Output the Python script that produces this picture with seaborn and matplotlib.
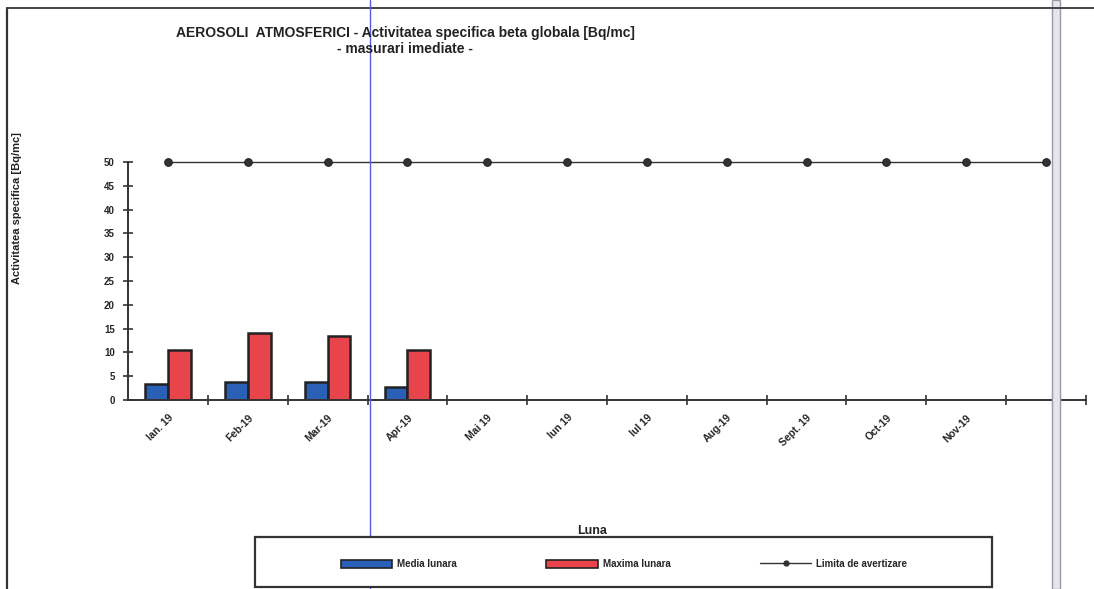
import matplotlib
matplotlib.use("Agg")
import seaborn as sns
import matplotlib.pyplot as plt
from matplotlib.lines import Line2D
from matplotlib.patches import Patch, Rectangle
import numpy as np
import pandas as pd

# Data
months = ["Ian. 19", "Feb-19", "Mar-19", "Apr-19", "Mai 19", "Iun 19",
          "Iul 19", "Aug-19", "Sept. 19", "Oct-19", "Nov-19", ""]
media_lunara = [3.4, 3.8, 3.7, 2.8, np.nan, np.nan, np.nan, np.nan, np.nan, np.nan, np.nan, np.nan]
maxima_lunara = [10.6, 14.0, 13.5, 10.5, np.nan, np.nan, np.nan, np.nan, np.nan, np.nan, np.nan, np.nan]
limita_avertizare = [50] * 12

series_names = ["Media lunara", "Maxima lunara"]
colors = ["#2a60b8", "#e8444c"]

df = pd.DataFrame({
    "Luna": months * 2,
    "Serie": [series_names[0]] * 12 + [series_names[1]] * 12,
    "Valoare": media_lunara + maxima_lunara,
})

sns.set_style("white")
plt.rcParams["font.family"] = ["Liberation Sans", "DejaVu Sans"]
plt.rcParams["font.weight"] = "bold"

fig = plt.figure(figsize=(10.94, 5.89), dpi=100)
ax = fig.add_axes([128 / 1094, 1 - 400 / 589, (1086 - 128) / 1094, (400 - 162) / 589])

sns.barplot(data=df, x="Luna", y="Valoare", hue="Serie", order=months,
            hue_order=series_names, palette=colors, width=0.57, saturation=1,
            edgecolor="#222222", linewidth=1.8, ax=ax, legend=False)

sns.lineplot(x=np.arange(len(months)), y=limita_avertizare, color="#333333",
             linewidth=1.0, marker="o", markersize=5.5, markeredgecolor="#222222",
             ax=ax, legend=False, clip_on=False, zorder=5)

ax.set_xlim(-0.5, len(months) - 0.5)
ax.set_ylim(0, 50)
ax.set_yticks(range(0, 51, 5))
ax.set_yticklabels([str(v) for v in range(0, 51, 5)], fontsize=7, fontweight="bold")

# category boundary ticks, labels at centres
ax.set_xticks(np.arange(0.5, len(months), 1.0))
ax.set_xticklabels([])
ax.set_xticks(np.arange(len(months)), minor=True)
ax.set_xticklabels(months, minor=True, rotation=45, ha="right",
                   rotation_mode="anchor", fontsize=7.5, fontweight="bold")
ax.tick_params(axis="x", which="major", bottom=True, direction="inout", length=7,
               width=1.2, color="#333333")
ax.tick_params(axis="x", which="minor", bottom=True, length=0, pad=9)
ax.tick_params(axis="y", left=True, direction="inout", length=7, width=1.2,
               color="#333333", pad=6)

for s in ["top", "right"]:
    ax.spines[s].set_visible(False)
for s in ["left", "bottom"]:
    ax.spines[s].set_linewidth(1.4)
    ax.spines[s].set_color("#333333")
ax.set_xlabel("")
ax.set_ylabel("")

fig.text(405 / 1094, 1 - 33 / 589, "AEROSOLI  ATMOSFERICI - Activitatea specifica beta globala [Bq/mc]",
         ha="center", va="center", fontsize=10, fontweight="bold", color="#222222")
fig.text(405 / 1094, 1 - 49 / 589, "- masurari imediate -",
         ha="center", va="center", fontsize=10, fontweight="bold", color="#222222")
fig.text(17 / 1094, 1 - 208 / 589, "Activitatea specifica [Bq/mc]", rotation=90,
         ha="center", va="center", fontsize=8, fontweight="bold", color="#222222")
fig.text(592 / 1094, 1 - 531 / 589, "Luna", ha="center", va="center",
         fontsize=9, fontweight="bold", color="#222222")

# legend box
fig.patches.append(Rectangle((255 / 1094, 1 - 587 / 589), (992 - 255) / 1094, 50 / 589,
                             transform=fig.transFigure, facecolor="white",
                             edgecolor="#333333", linewidth=1.6, zorder=2))
handles = [
    Patch(facecolor=colors[0], edgecolor="#222222", linewidth=1.2, label="Media lunara"),
    Patch(facecolor=colors[1], edgecolor="#222222", linewidth=1.2, label="Maxima lunara"),
    Line2D([0], [0], color="#333333", linewidth=1.0, marker="o", markersize=3.5,
           label="Limita de avertizare"),
]
leg = fig.legend(handles=handles, loc="center", bbox_to_anchor=(624 / 1094, 1 - 564 / 589),
                 ncol=3, frameon=False, fontsize=7, handlelength=5.3, handleheight=0.9,
                 handletextpad=0.5, columnspacing=9.2)
leg.set_zorder(3)

# page frame and scan artefacts
fig.add_artist(Line2D([7 / 1094, 7 / 1094], [0, 1 - 8 / 589], transform=fig.transFigure,
                      color="#333333", linewidth=1.6))
fig.add_artist(Line2D([7 / 1094, 1], [1 - 8 / 589, 1 - 8 / 589], transform=fig.transFigure,
                      color="#444444", linewidth=1.4))
fig.patches.append(Rectangle((1052 / 1094, 0), 8 / 1094, 1, transform=fig.transFigure,
                             facecolor="#e4e6ee", edgecolor="#9a9aa4", linewidth=1.0, zorder=1))
fig.add_artist(Line2D([370 / 1094, 370 / 1094], [0, 1], transform=fig.transFigure,
                      color="#5a5ae0", linewidth=1.0))

fig.savefig("out.png", dpi=100)
